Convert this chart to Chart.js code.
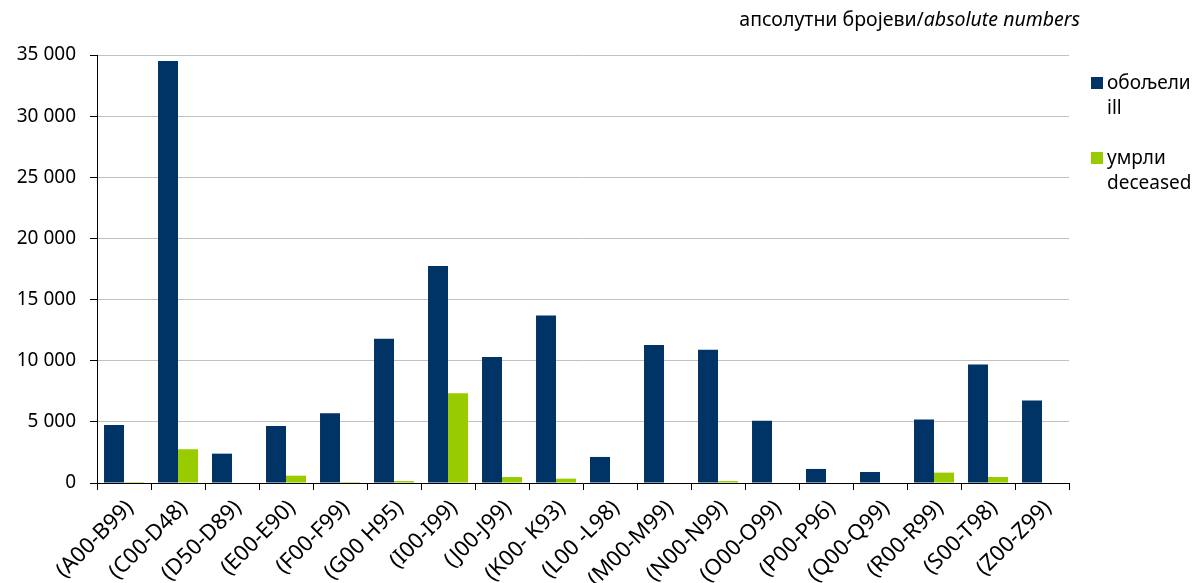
<!DOCTYPE html>
<html>
<head>
<meta charset="utf-8">
<script src="https://cdn.jsdelivr.net/npm/chart.js@4"></script>
<style>
  body { margin: 0; background: #fff; }
  #wrap { position: relative; width: 1198px; height: 583px; font-family: "Noto Sans", sans-serif; color: #000; }
  #title { position: absolute; right: 118px; top: 5px; font-size: 19.5px; white-space: nowrap; }
  .leg { position: absolute; left: 1091px; font-size: 19px; line-height: 25px; }
  .leg span.box { position: absolute; left: 0; top: 7px; width: 12px; height: 12px; }
  .leg div.txt { margin-left: 16px; }
</style>
</head>
<body>
<div id="wrap">
  <canvas id="chart" width="1198" height="583"></canvas>
  <div id="title">апсолутни бројеви/<i>absolute numbers</i></div>
  <div class="leg" style="top:70px"><span class="box" style="background:#003366"></span><div class="txt">обољели<br>ill</div></div>
  <div class="leg" style="top:145px"><span class="box" style="background:#99cc00"></span><div class="txt">умрли<br>deceased</div></div>
</div>
<script>
// ICD chapter groups
const categories = ['(A00-B99)', '(C00-D48)', '(D50-D89)', '(E00-E90)', '(F00-F99)', '(G00 H95)',
    '(I00-I99)', '(J00-J99)', '(K00- K93)', '(L00 -L98)', '(M00-M99)', '(N00-N99)',
    '(O00-O99)', '(P00-P96)', '(Q00-Q99)', '(R00-R99)', '(S00-T98)', '(Z00-Z99)'];

// ill (обољели)
const illValues = [4750, 34500, 2400, 4670, 5710, 11800, 17750, 10300, 13700, 2130,
    11280, 10900, 5100, 1150, 900, 5200, 9700, 6750];

// deceased (умрли)
const deceasedValues = [80, 2760, 0, 600, 80, 160, 7330, 490, 355, 0,
    0, 160, 0, 0, 0, 850, 490, 0];

const yTicks = [0, 5000, 10000, 15000, 20000, 25000, 30000, 35000];

const fmt = v => String(v).replace(/\B(?=(\d{3})+(?!\d))/g, ' ');

const ctx = document.getElementById('chart').getContext('2d');
new Chart(ctx, {
    type: 'bar',
    data: {
        labels: categories,
        datasets: [
            { label: 'обољели ill', data: illValues, backgroundColor: '#003366', borderWidth: 0 },
            { label: 'умрли deceased', data: deceasedValues, backgroundColor: '#99cc00', borderWidth: 0 }
        ]
    },
    options: {
        responsive: false,
        animation: false,
        categoryPercentage: 0.74,
        barPercentage: 1,
        layout: { padding: { left: 0, right: 129, top: 55, bottom: 0 } },
        plugins: { legend: { display: false }, tooltip: { enabled: false } },
        scales: {
            x: {
                grid: { display: true, drawOnChartArea: false, tickColor: '#000', tickLength: 7, offset: true },
                border: { color: '#000', width: 1 },
                ticks: {
                    autoSkip: false, maxRotation: 45, minRotation: 45, padding: 5, labelOffset: 6,
                    color: '#000', font: { family: 'Noto Sans', size: 22 }
                },
                afterFit: s => { s.height = 100; }
            },
            y: {
                min: 0, max: 35000,
                afterBuildTicks: s => { s.ticks = yTicks.map(v => ({ value: v })); },
                grid: { color: '#c0c0c0', tickColor: '#000', tickLength: 7 },
                border: { color: '#000', width: 1 },
                ticks: {
                    padding: 14, color: '#000', font: { family: 'Noto Sans', size: 19 },
                    callback: v => fmt(v)
                },
                afterFit: s => { s.width = 97; }
            }
        }
    }
});
</script>
</body>
</html>
